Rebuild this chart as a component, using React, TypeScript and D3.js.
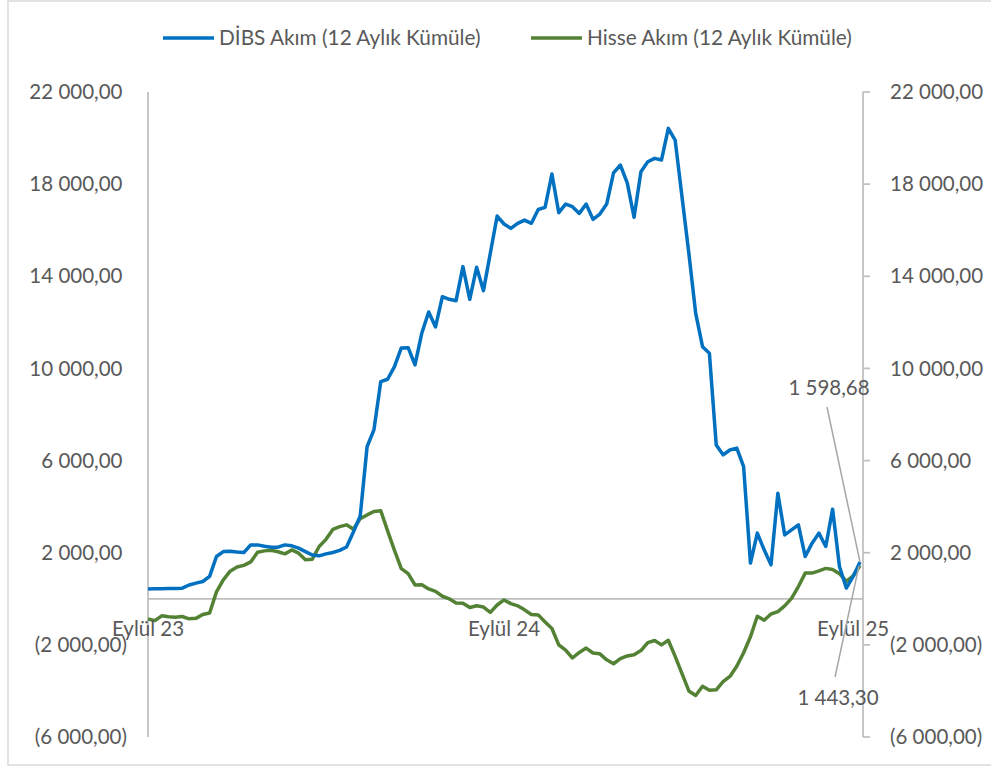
import React from "react";
import * as d3 from "d3";

// Weekly observations, Eylül 2023 – Eylül 2025 (12-month cumulative flows)
const dibs: number[] = [
  420, 440, 440, 450, 450, 460, 600, 680, 750, 970,
  1835, 2050, 2060, 2030, 2010, 2340, 2340, 2280, 2240, 2240,
  2340, 2300, 2200, 2050, 1900, 1865, 1950, 2010, 2100, 2250,
  2900, 3600, 6600, 7330, 9430, 9530, 10080, 10890, 10900, 10150,
  11540, 12450, 11800, 13115, 13000, 12940, 14420, 13000, 14390, 13375,
  15000, 16615, 16270, 16080, 16300, 16440, 16300, 16900, 16990, 18440,
  16760, 17135, 17020, 16730, 17135, 16470, 16700, 17135, 18490, 18830,
  18060, 16560, 18540, 18970, 19120, 19045, 20420, 19910, 17450, 15000,
  12390, 10945, 10660, 6680, 6250, 6460, 6540, 5740, 1550, 2850,
  2125, 1475, 4585, 2775, 2990, 3210, 1835, 2415, 2850, 2270,
  3890, 1400, 465, 970, 1598.68,
];

const hisse: number[] = [
  -880, -950, -740, -780, -800, -770, -870, -850, -680, -620,
  300, 820, 1200, 1380, 1450, 1600, 2020, 2080, 2110, 2040,
  1950, 2120, 1980, 1690, 1720, 2270, 2580, 3010, 3130, 3210,
  3020, 3480, 3640, 3790, 3820, 2950, 2100, 1310, 1090, 600,
  610, 430, 320, 110, 0, -180, -190, -380, -300, -360,
  -590, -270, -50, -210, -305, -480, -680, -700, -1010, -1290,
  -2000, -2230, -2570, -2330, -2140, -2355, -2390, -2650, -2820, -2600,
  -2480, -2430, -2250, -1900, -1810, -2000, -1800, -2500, -3250, -4000,
  -4200, -3800, -3970, -3950, -3600, -3370, -2930, -2340, -1650, -760,
  -930, -660, -560, -310, 20, 530, 1115, 1115, 1210, 1320,
  1270, 1090, 760, 990, 1443.3,
];

const seriesNames: string[] = ["DİBS Akım (12 Aylık Kümüle)", "Hisse Akım (12 Aylık Kümüle)"];
const seriesColors: string[] = ["#0070C0", "#548235"];

const xTickIndex: number[] = [0, 52, 103];
const xTickLabels: string[] = ["Eylül 23", "Eylül 24", "Eylül 25"];

const yTicks: number[] = [22000, 18000, 14000, 10000, 6000, 2000, -2000, -6000];

const trLocale = d3.formatLocale({ decimal: ",", thousands: " ", grouping: [3], currency: ["", ""] });
const fmtAbs = trLocale.format(",.2f");
const fmt = (v: number) => (v < 0 ? `(${fmtAbs(-v)})` : fmtAbs(v));

const FONT = "Lato, 'Open Sans', sans-serif";
const TXT = "#595959";
const AXIS = "#BFBFBF";

export default function App() {
  const W = 991;
  const H = 767;
  const x = d3.scaleLinear().domain([0, dibs.length - 1]).range([148, 860]);
  const y = d3.scaleLinear().domain([-6000, 22000]).range([737, 92]);
  const line = d3
    .line<number>()
    .x((_, i) => x(i))
    .y((d) => y(d));

  const lastI = dibs.length - 1;
  const axisRight = 863;

  return (
    <svg
      width={W}
      height={H}
      style={{ position: "absolute", left: 0, top: 0, background: "#fff" }}
      fontFamily={FONT}
    >
      <rect x={8} y={1} width={990} height={764} fill="#fff" stroke="#D9D9D9" strokeWidth={1.5} />

      {/* Legend */}
      {seriesNames.map((n, k) => {
        const lx = k === 0 ? 163 : 531;
        return (
          <g key={n}>
            <line x1={lx} x2={lx + 51} y1={38} y2={38} stroke={seriesColors[k]} strokeWidth={3.5} />
            <text x={lx + 56} y={38} dy="0.35em" fontSize={20.8} fill={TXT}>
              {n}
            </text>
          </g>
        );
      })}

      {/* Axes */}
      <line x1={148} x2={148} y1={y(22000)} y2={y(-6000)} stroke={AXIS} strokeWidth={1.75} />
      <line x1={axisRight} x2={axisRight} y1={y(22000)} y2={y(-6000)} stroke={AXIS} strokeWidth={1.75} />
      {yTicks.map((t) => (
        <line key={"rt" + t} x1={axisRight} x2={axisRight + 7} y1={y(t)} y2={y(t)} stroke={AXIS} strokeWidth={1.75} />
      ))}
      <line x1={148} x2={axisRight} y1={y(0)} y2={y(0)} stroke={AXIS} strokeWidth={1.75} />

      {/* Y labels */}
      {yTicks.map((t) => (
        <g key={"yl" + t}>
          <text x={t < 0 ? 127 : 122.5} y={y(t)} dy="0.35em" textAnchor="end" fontSize={20.5} fill={TXT}>
            {fmt(t)}
          </text>
          <text x={890} y={y(t)} dy="0.35em" textAnchor="start" fontSize={20.5} fill={TXT}>
            {fmt(t)}
          </text>
        </g>
      ))}

      {/* Series */}
      <path d={line(hisse) || ""} fill="none" stroke={seriesColors[1]} strokeWidth={3.5} strokeLinejoin="round" />
      <path d={line(dibs) || ""} fill="none" stroke={seriesColors[0]} strokeWidth={3.5} strokeLinejoin="round" />

      {/* X labels */}
      {xTickIndex.map((i, k) => (
        <text key={"xl" + k} x={x(i)} y={629} dy="0.35em" textAnchor="middle" fontSize={20.5} fill={TXT}>
          {xTickLabels[k]}
        </text>
      ))}

      {/* Data labels with leader lines */}
      <line x1={827} y1={407} x2={x(lastI)} y2={y(dibs[lastI])} stroke="#A6A6A6" strokeWidth={1.5} />
      <text x={829} y={388} dy="0.35em" textAnchor="middle" fontSize={20.5} fill={TXT}>
        {fmt(dibs[lastI])}
      </text>
      <line x1={835} y1={677} x2={x(lastI) - 1} y2={y(hisse[lastI])} stroke="#A6A6A6" strokeWidth={1.5} />
      <text x={838} y={698} dy="0.35em" textAnchor="middle" fontSize={20.5} fill={TXT}>
        {fmt(hisse[lastI])}
      </text>
    </svg>
  );
}
